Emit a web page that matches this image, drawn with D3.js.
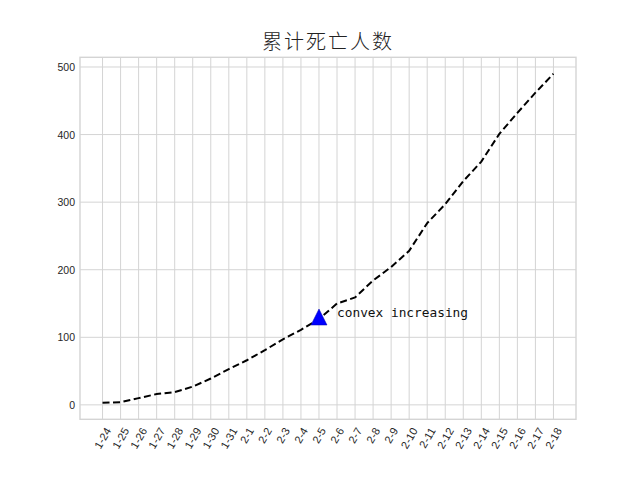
<!DOCTYPE html>
<html>
<head>
<meta charset="utf-8">
<script src="https://cdn.jsdelivr.net/npm/d3@7"></script>
<style>
  html, body { margin: 0; padding: 0; background: #fff; }
  svg { display: block; }
</style>
</head>
<body>
<svg id="chart" width="640" height="480"></svg>
<script>
const titleText = "累计死亡人数";
const dates = ["1-24","1-25","1-26","1-27","1-28","1-29","1-30","1-31",
  "2-1","2-2","2-3","2-4","2-5","2-6","2-7","2-8","2-9","2-10","2-11",
  "2-12","2-13","2-14","2-15","2-16","2-17","2-18"];
const deaths = [3,4,10,16,19,27,39,53,66,81,97,111,127,150,159,184,204,228,269,297,331,360,401,432,462,490];
const yTicks = [0,100,200,300,400,500];
const markerIndex = 12;      // 2-5
const markerValue = 130;
const labelIndex = 13;       // text starts at 2-6
const labelValue = 130;
const labelText = "convex increasing";

(function () {
const svg = d3.select("#chart");
const mLeft = 80, mRight = 576, mTop = 57.3, mBottom = 419.3;

const n = dates.length;
const xPad = (n - 1) * 0.05;
const x = d3.scaleLinear().domain([-xPad, n - 1 + xPad]).range([mLeft, mRight]);
const [ymin, ymax] = d3.extent(deaths);
const yPad = (ymax - ymin) * 0.05;
const y = d3.scaleLinear().domain([ymin - yPad, ymax + yPad]).range([mBottom, mTop]);

const gridColor = "#d4d4d4";

// grid
const g = svg.append("g");
g.selectAll(".vg").data(dates).enter().append("line")
  .attr("x1", (d,i) => x(i)).attr("x2", (d,i) => x(i))
  .attr("y1", mTop).attr("y2", mBottom)
  .attr("stroke", gridColor).attr("stroke-width", 1);
g.selectAll(".hg").data(yTicks).enter().append("line")
  .attr("x1", mLeft).attr("x2", mRight)
  .attr("y1", d => y(d)).attr("y2", d => y(d))
  .attr("stroke", gridColor).attr("stroke-width", 1);

// frame
svg.append("rect").attr("x", mLeft).attr("y", mTop)
  .attr("width", mRight - mLeft).attr("height", mBottom - mTop)
  .attr("fill", "none").attr("stroke", gridColor).attr("stroke-width", 1.4);

// y axis labels
svg.selectAll(".yl").data(yTicks).enter().append("text")
  .attr("x", mLeft - 5).attr("y", d => y(d))
  .attr("text-anchor", "end").attr("dominant-baseline", "central")
  .attr("font-family", "Liberation Sans, Arial, sans-serif")
  .attr("font-size", 10.5).attr("fill", "#262626")
  .text(d => d);

// x axis labels rotated
const xl = svg.selectAll(".xl").data(dates).enter().append("text")
  .attr("text-anchor", "middle").attr("dominant-baseline", "central")
  .attr("font-family", "Liberation Sans, Arial, sans-serif")
  .attr("font-size", 11).attr("fill", "#262626")
  .text(d => d);
xl.each(function(d, i) {
  const w = this.getComputedTextLength();
  const h = 9;
  const bh = 0.866 * w + 0.5 * h;
  d3.select(this).attr("transform",
    `translate(${x(i)},${mBottom + 7 + bh / 2}) rotate(-60)`);
});

// line
const line = d3.line().x((d,i) => x(i)).y(d => y(d));
svg.append("path").datum(deaths)
  .attr("d", line).attr("fill", "none")
  .attr("stroke", "#000").attr("stroke-width", 2)
  .attr("stroke-dasharray", "7,3.5");

// triangle marker
const mx = x(markerIndex), my = y(markerValue), ms = 8;
svg.append("path")
  .attr("d", `M${mx},${my - ms}L${mx - ms},${my + ms}L${mx + ms},${my + ms}Z`)
  .attr("fill", "#0000ff").attr("stroke", "#0000aa").attr("stroke-width", 0.5);

// annotation text
svg.append("text")
  .attr("x", x(labelIndex)).attr("y", y(labelValue))
  .attr("font-family", "DejaVu Sans Mono, monospace")
  .attr("font-size", 12.8).attr("fill", "#111")
  .text(labelText);

// title
svg.append("text")
  .attr("x", (mLeft + mRight) / 2).attr("y", 49)
  .attr("text-anchor", "middle")
  .attr("font-family", "Noto Sans CJK SC, sans-serif")
  .attr("font-weight", 300)
  .attr("font-size", 20).attr("letter-spacing", 2).attr("fill", "#222")
  .text(titleText);
})();
</script>
</body>
</html>
